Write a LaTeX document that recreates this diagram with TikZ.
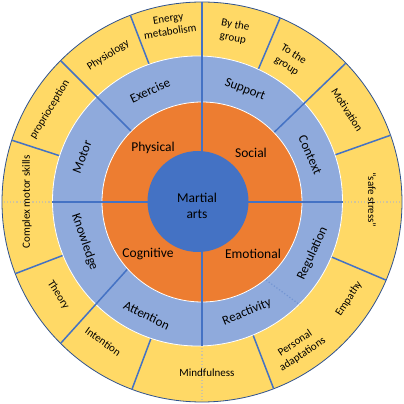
\documentclass[tikz,border=0pt]{standalone}
\usepackage{fontspec}
\setmainfont{Carlito}
\usepackage{tikz}
\usepackage{xcolor}
\definecolor{ringyellow}{HTML}{FFD966}
\definecolor{ringblue}{HTML}{8FAADC}
\definecolor{ringorange}{HTML}{ED7D31}
\definecolor{coreblue}{HTML}{4472C4}
\definecolor{rimblue}{HTML}{2F528F}
\definecolor{dotgrey}{HTML}{CFC49E}

\begin{document}
\begin{tikzpicture}[x=1pt, y=1pt,
  divider/.style={coreblue, line width=1.5pt},
  faint/.style={dotgrey, line width=1.2pt, dotted},
  core/.style={font=\fontsize{13.5}{16.5}\selectfont, align=center},
  inner/.style={font=\fontsize{13}{16}\selectfont},
  outer/.style={font=\fontsize{11}{13.4}\selectfont, align=center}]
\useasboundingbox (-202,-202) rectangle (202,202);
% outer ring
\filldraw[fill=ringyellow, draw=rimblue, line width=0.8pt] (0,0) circle (200);
\foreach \a in {111,162,67,19.5,-23,-69,201,249.5}
  \draw[divider] (\a:130) -- (\a:200);
\draw[faint] (-130,0) -- (-200,0);
\draw[faint] (130,0) -- (200,0);
\draw[faint] (0,-130) -- (0,-200);
% middle ring
\filldraw[fill=ringblue, draw=white, line width=0.8pt] (-4.5,1) circle (145);
\draw[divider] (135:100) -- (135:200);
\draw[divider] (44:100) -- (44:200);
\draw[divider] (222:100) -- (225:200);
\draw[coreblue!75, line width=1.2pt, dotted] (-50.6:101) -- (-46.4:142);
% inner ring
\filldraw[fill=ringorange, draw=white, line width=0.8pt] (0,0) circle (100);
\draw[divider] (0,200) -- (0,0);
\draw[divider] (-149.5,0) -- (140.5,0);
\draw[divider] (0,0) -- (0,-144);
\fill[coreblue] (-4,0.5) circle (50.5);

% centre and quadrants
\node[core] (martial) at (-5,-4) {Martial\\arts};
\node[core] (physical) at (-49,54) {Physical};
\node[core] (social) at (49,49) {Social};
\node[core] (cognitive) at (-54,-52) {Cognitive};
\node[core] (emotional) at (51,-52) {Emotional};

% middle ring labels
\node[inner, rotate=25] (exercise) at (115:123) {Exercise};
\node[inner, rotate=69.4] (motor) at (159.4:128) {Motor};
\node[inner, rotate=-21] (support) at (69:120) {Support};
\node[inner, rotate=-66.5] (context) at (23.5:118) {Context};
\node[inner, rotate=65] (regulation) at (-25:122) {Regulation};
\node[inner, rotate=22.2] (reactivity) at (-67.8:119) {Reactivity};
\node[inner, rotate=-26] (attention) at (244:126) {Attention};
\node[inner, rotate=-71] (knowledge) at (198.9:124) {Knowledge};

% outer ring labels
\node[outer, rotate=9] (energy) at (100.5:180) {Energy\\metabolism};
\node[outer, rotate=32.6] (physiology) at (122.6:174) {Physiology};
\node[outer, rotate=58.8] (proprio) at (148.8:178) {proprioception};
\node[outer, rotate=90] (complex) at (180:175) {Complex motor skills};
\node[outer, rotate=-57.1] (theory) at (212.9:171) {Theory};
\node[outer, rotate=-35.3] (intention) at (234.7:171) {Intention};
\node[outer] (mindful) at (5,-171) {Mindfulness};
\node[outer, rotate=33.4] (personal) at (-56.6:176) {Personal\\adaptations};
\node[outer, rotate=56.6] (empathy) at (-33.4:176) {Empathy};
\node[outer, rotate=-90] (stress) at (0.7:170) {“safe stress”};
\node[outer, rotate=-57.6] (motivation) at (32.4:172) {Motivation};
\node[outer, rotate=-31.8] (togroup) at (58.2:167) {To the\\group};
\node[outer, rotate=-10.7] (bygroup) at (79.3:173) {By the\\group};
\end{tikzpicture}
\end{document}
